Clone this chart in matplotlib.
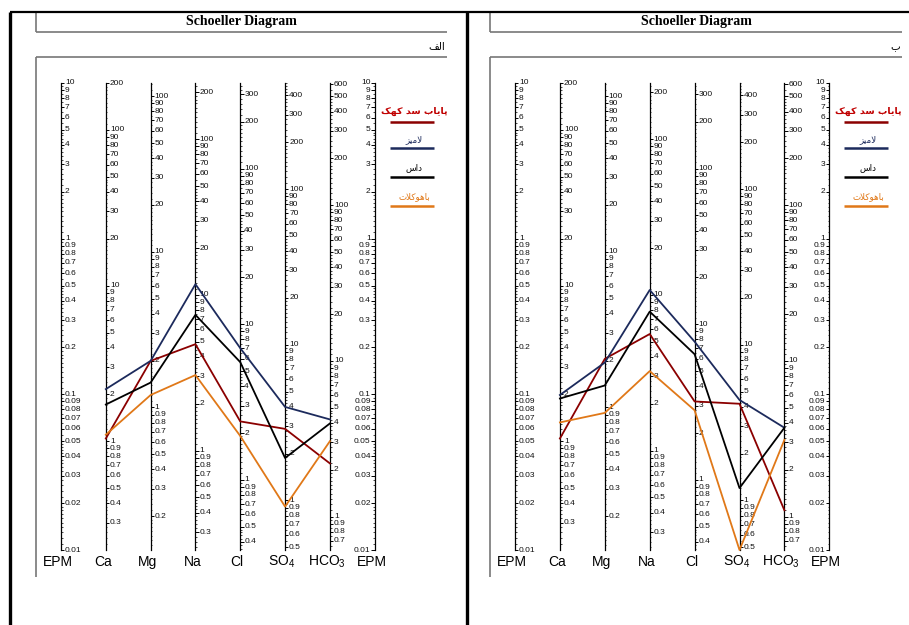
import matplotlib
matplotlib.use('Agg')
import matplotlib.pyplot as plt
from matplotlib.lines import Line2D
import matplotlib.transforms as mtransforms

plt.rcParams['font.family'] = ['Liberation Sans', 'DejaVu Sans']
plt.rcParams['mathtext.fontset'] = 'custom'
plt.rcParams['mathtext.rm'] = 'Liberation Sans'
plt.rcParams['mathtext.it'] = 'Liberation Sans:italic'

W, H = 909, 625

# ---- data ----
axis_labels = ['EPM', 'Ca', 'Mg', 'Na', 'Cl', r'SO$_4$', r'HCO$_3$', 'EPM']
eq_weight = [20.04, 12.15, 22.99, 35.45, 48.03, 61.02]   # mg/L per meq/L

station_names = ['پایاب سد کهک', 'لامیز', 'داس', 'باهوکلات']
line_colors = ['#8b0000', '#1c2a5c', '#000000', '#e07818']
text_colors = ['#c00000', '#1c2a5c', '#000000', '#e07818']

# panel "الف" (epm)
a_kahak = [0.052, 0.164, 0.21, 0.067, 0.060, 0.036]
a_lamiz = [0.108, 0.164, 0.51, 0.198, 0.083, 0.069]
a_das = [0.086, 0.119, 0.324, 0.161, 0.039, 0.065]
a_bahou = [0.055, 0.099, 0.133, 0.054, 0.019, 0.050]

# panel "ب" (epm)
b_kahak = [0.052, 0.169, 0.244, 0.090, 0.087, 0.018]
b_lamiz = [0.099, 0.160, 0.468, 0.218, 0.092, 0.061]
b_das = [0.094, 0.114, 0.34, 0.181, 0.025, 0.061]
b_bahou = [0.066, 0.076, 0.141, 0.079, 0.010, 0.051]


# ---- persian shaping (matplotlib does no shaping) ----
forms = {
    'ا': ('\uFE8D', '\uFE8E', None, None),
    'ب': ('\uFE8F', '\uFE90', '\uFE91', '\uFE92'),
    'پ': ('\uFB56', '\uFB57', '\uFB58', '\uFB59'),
    'ت': ('\uFE95', '\uFE96', '\uFE97', '\uFE98'),
    'د': ('\uFEA9', '\uFEAA', None, None),
    'ز': ('\uFEAF', '\uFEB0', None, None),
    'س': ('\uFEB1', '\uFEB2', '\uFEB3', '\uFEB4'),
    'ف': ('\uFED1', '\uFED2', '\uFED3', '\uFED4'),
    'ک': ('\uFB8E', '\uFB8F', '\uFB90', '\uFB91'),
    'ل': ('\uFEDD', '\uFEDE', '\uFEDF', '\uFEE0'),
    'م': ('\uFEE1', '\uFEE2', '\uFEE3', '\uFEE4'),
    'ه': ('\uFEE9', '\uFEEA', '\uFEEB', '\uFEEC'),
    'و': ('\uFEED', '\uFEEE', None, None),
    'ی': ('\uFBFC', '\uFBFD', '\uFBFE', '\uFBFF'),
}


def shape(word):
    out = []
    i = 0
    while i < len(word):
        c = word[i]
        if c not in forms:
            out.append(c)
            i += 1
            continue
        prev = word[i - 1] if i > 0 else None
        joins_prev = prev in forms and forms[prev][2] is not None
        if c == 'ل' and i + 1 < len(word) and word[i + 1] == 'ا':
            out.append('\uFEFC' if joins_prev else '\uFEFB')
            i += 2
            continue
        nxt = word[i + 1] if i + 1 < len(word) else None
        joins_next = forms[c][2] is not None and nxt in forms
        iso, fin, ini, med = forms[c]
        if joins_prev and joins_next:
            out.append(med)
        elif joins_prev:
            out.append(fin)
        elif joins_next:
            out.append(ini)
        else:
            out.append(iso)
        i += 1
    return ''.join(reversed(out))


fig = plt.figure(figsize=(W / 100, H / 100), dpi=100)
fig.patch.set_facecolor('white')


def pline(x0, y0, x1, y1, color='k', lw=1.0):
    fig.add_artist(Line2D([x0 / W, x1 / W], [1 - y0 / H, 1 - y1 / H],
                          color=color, lw=lw, solid_capstyle='butt'))


def draw_scale(ax, x, factor, side=1):
    # one vertical log scale, ticks in mg/L (or epm when factor == 1)
    ax.plot([x, x], [0.01, 10], color='k', lw=0.9, clip_on=False)
    major, minor = [], []
    for k in range(-3, 4):
        for m in range(1, 10):
            v = m * 10.0 ** k
            e = v / factor
            if 0.00999 <= e <= 10.01:
                major.append((v, e))
            if m < 2:
                steps = [m + 0.1 * j for j in range(1, 10)]
            elif m < 5:
                steps = [m + 0.2 * j for j in range(1, 5)]
            else:
                steps = [m + 0.5]
            for s in steps:
                e2 = s * 10.0 ** k / factor
                if 0.01 <= e2 <= 10:
                    minor.append(e2)
    tl = 0.075 * side
    ax.hlines([e for v, e in major], x, x + tl, color='k', lw=0.7, clip_on=False)
    ax.hlines(minor, x, x + tl * 0.5, color='k', lw=0.5, clip_on=False)
    for v, e in major:
        ax.text(x + tl * 1.2, e, f'{v:g}', fontsize=6, ha='left' if side > 0 else 'right',
                va='center', clip_on=False, color='#111111')


def draw_panel(left_px, right_px, series, tag, tag_x):
    ax = fig.add_axes([left_px / W, (H - 550) / H, (right_px - left_px) / W, 467 / H])
    ax.set_yscale('log')
    ax.set_xlim(0, 7)
    ax.set_ylim(0.01, 10)
    ax.axis('off')

    draw_scale(ax, 0, 1, side=1)
    for i, f in enumerate(eq_weight):
        draw_scale(ax, i + 1, f, side=1)
    draw_scale(ax, 7, 1, side=-1)

    trans = mtransforms.blended_transform_factory(ax.transData, ax.transAxes)
    for i, lab in enumerate(axis_labels):
        ax.text(i - 0.07, -0.025, lab, transform=trans, ha='center', va='center', fontsize=10)

    for vals, c in zip(series, line_colors):
        ax.plot(range(1, 7), vals, color=c, lw=1.3, clip_on=False, zorder=3)

    # legend: name above a short line
    dx = left_px - 61
    name_y = [111, 140, 168, 197]
    line_y = [122, 148, 177, 206]
    for name, tc, lc, ny, ly in zip(station_names, text_colors, line_colors, name_y, line_y):
        fig.text((414 + dx) / W, 1 - ny / H, shape(name), color=tc, fontsize=6.8 if ny == 111 else 6.3,
                 ha='center', va='center', family='DejaVu Sans',
                 fontweight='bold' if ny == 111 else 'normal')
        pline(390 + dx, ly, 434 + dx, ly, color=lc, lw=1.8)

    # title box and frame
    fx = left_px - 25
    fr = tag_x
    fig.text((fx + fr) / 2 / W, 1 - 22 / H, 'Schoeller Diagram', ha='center', va='center',
             fontsize=10, fontweight='bold', family='Liberation Serif')
    fig.text((fr - 2) / W, 1 - 47 / H, shape(tag), ha='right', va='center', fontsize=7.5,
             family='DejaVu Sans')
    pline(fx, 12, fx, 32, color='#777777', lw=1.2)
    pline(fx, 32, fr, 32, color='#777777', lw=1.2)
    pline(fx, 57, fr, 57, color='#777777', lw=1.2)
    pline(fx, 57, fx, 577, color='#777777', lw=1.2)


draw_panel(61, 374.7, [a_kahak, a_lamiz, a_das, a_bahou], 'الف', 447)
draw_panel(515, 829.3, [b_kahak, b_lamiz, b_das, b_bahou], 'ب', 902)

# page frame
pline(10, 12, 909, 12, lw=1.6)
pline(10, 12, 10, 625, lw=2.4)
pline(467, 12, 467, 625, lw=2.4)

fig.savefig('out.png', dpi=100, facecolor='white')
